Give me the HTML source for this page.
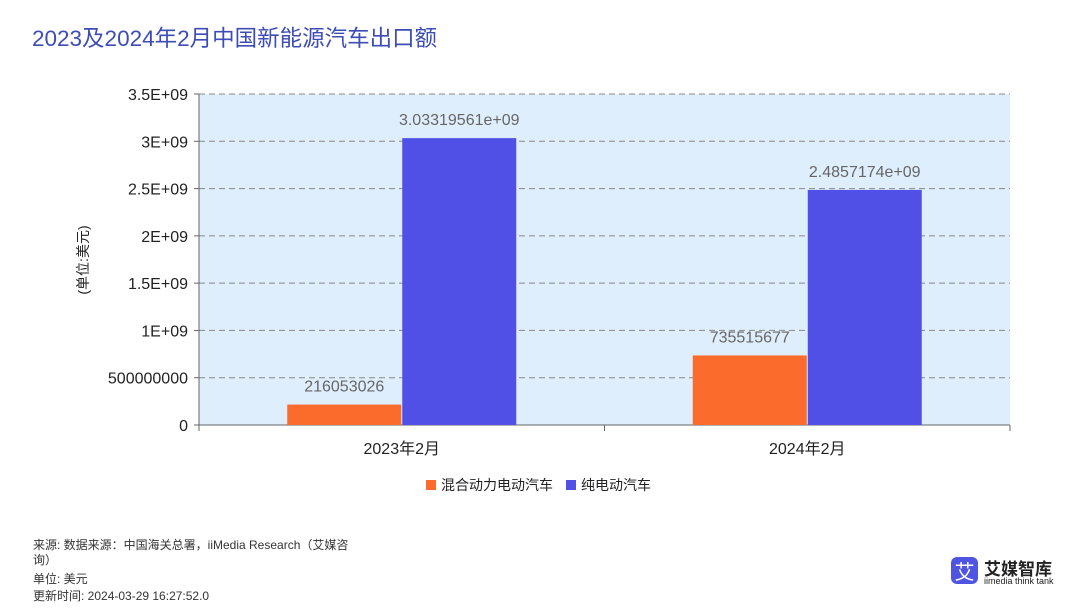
<!DOCTYPE html>
<html><head><meta charset="utf-8">
<style>
body{margin:0;width:1080px;height:608px;background:#fff;font-family:"Liberation Sans","Noto Sans CJK SC",sans-serif;position:relative;overflow:hidden}
.t{position:absolute;white-space:nowrap}
</style></head><body>
<div class="t" style="left:32px;top:21px;font-size:22.5px;color:#3d4db5">2023及2024年2月中国新能源汽车出口额</div>
<svg width="1080" height="608" style="position:absolute;left:0;top:0" id="chart"></svg>
<div class="t" style="left:33px;top:538px;font-size:12px;color:#333;line-height:15px">来源: 数据来源：中国海关总署，iiMedia Research（艾媒咨<br>询）</div>
<div class="t" style="left:33px;top:570px;font-size:12px;color:#333">单位: 美元</div>
<div class="t" style="left:33px;top:587px;font-size:12px;color:#333">更新时间: 2024-03-29 16:27:52.0</div>
<div style="position:absolute;left:951px;top:557px;width:27px;height:27px;background:#4f55e0;border-radius:6px;color:#fff;font-size:20px;text-align:center;line-height:27px;font-family:'Noto Sans CJK SC',sans-serif">艾</div>
<div class="t" style="left:984px;top:555px;font-size:17px;font-weight:bold;color:#222;font-family:'Noto Sans CJK SC',sans-serif">艾媒智库</div>
<div class="t" style="left:984px;top:576px;font-size:9px;color:#222">iimedia think tank</div>
<script>
const categories=["2023年2月","2024年2月"];
const seriesNames=["混合动力电动汽车","纯电动汽车"];
const hybridValues=[216053026,735515677];
const evValues=[3033195610,2485717400];
const valueLabels=[["216053026","735515677"],["3.03319561e+09","2.4857174e+09"]];
const yTicks=[0,500000000,1000000000,1500000000,2000000000,2500000000,3000000000,3500000000];
const yTickLabels=["0","500000000","1E+09","1.5E+09","2E+09","2.5E+09","3E+09","3.5E+09"];
const colors=["#fb6c2c","#5050e6"];
const svg=document.getElementById('chart');
const NS="http://www.w3.org/2000/svg";
const L=199,R=1010,T=94,B=425,yMax=3500000000;
const y=v=>B-(v/yMax)*(B-T);
const band=(R-L)/categories.length;
const xc=i=>L+band*(i+0.5);
const bw=114;
function mk(tag,attrs){const e=document.createElementNS(NS,tag);for(const k in attrs)e.setAttribute(k,attrs[k]);svg.appendChild(e);return e;}
let bg=mk('rect',{x:L,y:T,width:R-L,height:B-T,fill:'#dfeefc'});


yTicks.forEach((v,i)=>{
  if(v>0){const g=mk('line',{x1:L,x2:R,y1:y(v),y2:y(v),stroke:'#888','stroke-dasharray':'6,4','stroke-width':1});
  
  }
  const tk=mk('line',{x1:L-5,x2:L,y1:y(v),y2:y(v),stroke:'#666'});
  
  
  const t=mk('text',{x:L-11,y:y(v)+6,'text-anchor':'end','font-size':16,fill:'#222'});
  t.textContent=yTickLabels[i];
  
  
});
let ax=mk('line',{x1:L,x2:L,y1:T,y2:B,stroke:'#666'});


let axx=mk('line',{x1:L,x2:R,y1:B,y2:B,stroke:'#666'});


[0,1,2].forEach(i=>{const k=mk('line',{x1:L+band*i,x2:L+band*i,y1:B,y2:B+6,stroke:'#666'});

});
const yt=mk('text',{x:0,y:0,'font-size':14,fill:'#222','text-anchor':'middle',transform:'translate(88,260) rotate(-90)'});
yt.textContent='(单位:美元)';


[hybridValues,evValues].forEach((vals,s)=>{
  vals.forEach((v,i)=>{
    const x0=s===0?xc(i)-bw-0.5:xc(i)+0.5;
    const r=mk('rect',{x:x0,y:y(v),width:bw,height:B-y(v),fill:colors[s]});
    
    
    const t=mk('text',{x:x0+bw/2,y:y(v)-13,'text-anchor':'middle','font-size':16,fill:'#666'});
    t.textContent=valueLabels[s][i];
    
    
  });
});
categories.forEach((c,i)=>{
  const t=mk('text',{x:xc(i),y:454,'text-anchor':'middle','font-size':16,fill:'#222'});
  t.textContent=c;
  
  
});
const lx=[426,566];
seriesNames.forEach((n,s)=>{
  const r=mk('rect',{x:lx[s],y:480,width:10,height:10,fill:colors[s]});
  
  
  const t=mk('text',{x:lx[s]+15,y:490,'font-size':14,fill:'#222'});
  t.textContent=n;
  
  
});
</script>
</body></html>
